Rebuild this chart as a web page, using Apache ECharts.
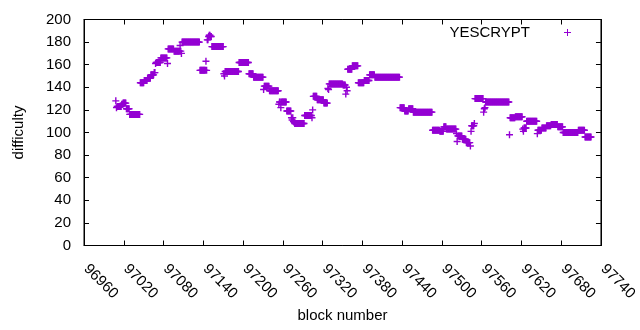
<!DOCTYPE html>
<html>
<head>
<meta charset="utf-8">
<script src="https://cdn.jsdelivr.net/npm/echarts@6/dist/echarts.min.js"></script>
<style>
html,body{margin:0;padding:0;background:#fff;}
#chart{width:640px;height:330px;}
</style>
</head>
<body>
<div id="chart"></div>
<script>
// ---- data ----
const seriesName = 'YESCRYPT';
const firstBlock = 97008;          // block number of the first value below; one value per block
const difficulty = [
  128,122,123,123,123,123,123,123,123,125,125,126,126,126,126,126,
  121,121,121,121,121,
  116,116,116,116,116,116,116,116,116,116,116,116,116,116,116,116,
  144,144,144,144,144,144,
  146,146,146,146,146,
  148,148,148,148,148,
  151,151,151,151,151,
  153,153,161,
  162,162,162,162,162,162,162,
  166,166,166,166,166,166,166,166,166,166,
  161,
  174,174,174,174,174,174,174,174,174,
  172,172,172,172,172,172,172,172,172,
  177,172,170,
  180,180,180,180,180,180,180,180,180,180,
  180,180,180,180,180,180,180,180,180,180,
  180,180,180,180,180,180,180,
  155,155,155,155,155,155,155,155,155,
  163,155,182,182,185,186,186,185,185,
  176,176,176,176,176,176,176,176,176,176,
  176,176,176,176,176,176,176,176,
  152,150,
  154,154,154,154,154,154,154,154,154,154,
  154,154,154,154,154,154,154,154,154,154,154,
  162,162,162,162,162,162,162,162,162,162,162,162,162,162,162,
  152,152,152,152,152,152,152,
  149,149,149,149,149,149,149,149,149,149,149,149,149,149,149,
  138,
  141,141,141,141,141,141,141,141,
  137,137,137,137,137,137,137,137,137,137,137,137,137,137,
  125,127,127,122,
  127,127,127,127,127,127,127,127,
  119,119,119,119,119,119,119,
  113,111,113,110,109,
  108,108,108,108,108,108,108,108,108,108,108,108,108,108,108,
  115,115,115,115,115,115,115,115,115,115,115,
  113,120,
  132,132,132,132,132,132,
  129,129,129,129,129,129,129,129,129,129,
  126,126,126,126,126,126,
  139,138,
  143,143,143,143,143,143,143,143,143,143,
  143,143,143,143,143,143,143,143,143,143,143,
  142,142,142,142,
  134,140,137,
  156,156,156,156,156,156,156,
  159,159,159,159,159,159,159,159,159,
  144,144,144,144,144,144,144,144,144,
  146,146,146,146,146,146,146,146,
  151,151,151,151,151,151,151,151,
  149,149,149,149,149,149,149,149,149,149,
  149,149,149,149,149,149,149,149,149,149,
  149,149,149,149,149,149,149,149,149,149,
  149,149,149,149,149,149,149,149,
  122,122,122,122,122,122,122,
  119,119,119,119,119,119,
  121,121,121,121,121,121,121,
  118,118,118,118,118,118,118,118,118,118,
  118,118,118,118,118,118,118,118,118,118,
  118,118,118,118,118,118,118,118,118,
  102,102,102,102,102,102,102,102,102,102,102,
  101,101,101,101,101,101,
  105,105,105,105,
  103,103,103,103,103,103,103,103,103,103,103,103,103,103,103,
  99,92,
  97,97,97,97,97,97,97,
  94,94,94,94,94,94,
  91,91,91,91,91,91,
  88,101,
  106,106,106,106,
  108,
  130,130,130,130,130,130,130,130,130,130,130,130,130,
  118,121,122,
  127,127,127,127,127,127,127,127,127,127,
  127,127,127,127,127,127,127,127,127,127,
  127,127,127,127,127,127,127,127,127,127,
  127,127,127,127,127,127,
  98,
  113,113,113,113,113,113,113,113,
  114,114,114,114,114,114,114,114,114,114,114,
  103,101,
  104,104,104,104,
  110,110,110,110,110,110,110,110,110,110,110,110,110,110,110,110,
  99,
  102,102,102,102,102,102,
  104,104,104,104,104,104,104,
  106,106,106,106,106,106,106,
  107,107,107,107,107,107,107,107,107,107,
  105,105,105,105,105,105,105,105,
  100,100,100,100,100,100,100,100,100,100,
  100,100,100,100,100,100,100,100,100,100,100,100,100,
  102,102,102,102,102,102,102,102,102,102,
  96,96,96,96,96,96,96,96,96,96
];
const xMin = 96960, xMax = 97740, xStep = 60;
const yMin = 0, yMax = 200, yStep = 20;
const xTitle = 'block number';
const yTitle = 'difficulty';

// ---- chart ----
const FONT = '"Liberation Sans", Arial, Helvetica, sans-serif';
// plus sign, bar thickness ~1.3px at 7px size
const PLUS = 'path://M40,0L60,0L60,40L100,40L100,60L60,60L60,100L40,100L40,60L0,60L0,40L40,40Z';
const LEGEND_PLUS = 'path://M3,0L4,0L4,3L7,3L7,4L4,4L4,7L3,7L3,4L0,4L0,3L3,3Z';
const points = difficulty.map((d, i) => [firstBlock + i, d]);

const chart = echarts.init(document.getElementById('chart'), null, {renderer: 'canvas'});

const line = {show: true, onZero: false, lineStyle: {color: '#000', width: 1}};
const tick = {show: true, inside: true, length: 5, lineStyle: {color: '#000', width: 1}};
const lbl = {fontSize: 15, color: '#000', fontFamily: FONT};

chart.setOption({
  animation: false,
  backgroundColor: '#fff',
  grid: {left: 84, right: 30, top: 19.5, bottom: 84.5, show: true,
         borderColor: '#000', borderWidth: 1, backgroundColor: 'transparent'},
  legend: {
    show: true, right: 69, top: 25, padding: 0, align: 'right',
    itemWidth: 7, itemHeight: 7, icon: LEGEND_PLUS,
    data: [seriesName],
    textStyle: Object.assign({}, lbl, {padding: [0, 29, 0, 0]}),
    selectedMode: false
  },
  xAxis: [
    {type: 'value', position: 'bottom', min: xMin, max: xMax, interval: xStep,
     axisLine: line, axisTick: tick, splitLine: {show: false},
     axisLabel: Object.assign({}, lbl, {rotate: -45, margin: 19, showMinLabel: true, showMaxLabel: true,
                                        padding: [0, 0, 0, 3], formatter: v => String(v)}),
     name: xTitle, nameLocation: 'middle', nameGap: 61,
     nameTextStyle: lbl},
    {type: 'value', position: 'top', min: xMin, max: xMax, interval: xStep,
     axisLine: line, axisTick: tick, splitLine: {show: false}, axisLabel: {show: false}}
  ],
  yAxis: [
    {type: 'value', position: 'left', min: yMin, max: yMax, interval: yStep,
     axisLine: line, axisTick: tick, splitLine: {show: false},
     axisLabel: Object.assign({}, lbl, {margin: 13, formatter: v => String(v)}),
     name: yTitle, nameLocation: 'middle', nameGap: 58, nameTextStyle: lbl},
    {type: 'value', position: 'right', min: yMin, max: yMax, interval: yStep,
     axisLine: line, axisTick: tick, splitLine: {show: false}, axisLabel: {show: false}}
  ],
  series: [{
    type: 'scatter', name: seriesName, data: points,
    xAxisIndex: 0, yAxisIndex: 0,
    symbol: PLUS, symbolSize: 7,
    itemStyle: {color: '#9400d3', opacity: 1},
    emphasis: {disabled: true}, silent: true
  }]
});
</script>
</body>
</html>
